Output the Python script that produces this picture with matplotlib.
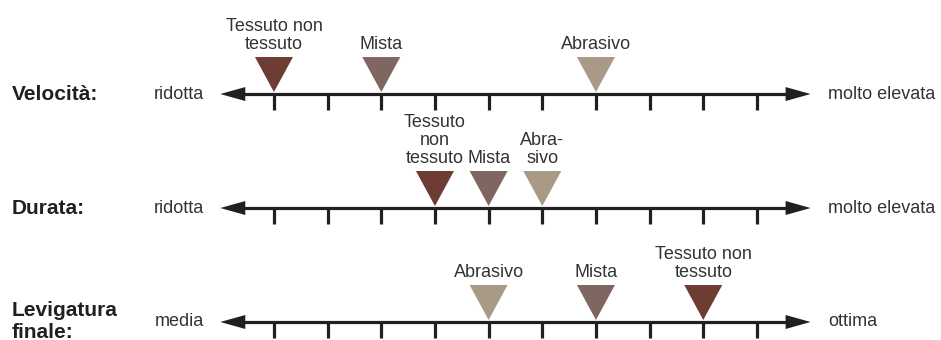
import matplotlib
matplotlib.use("Agg")
import matplotlib.pyplot as plt
from matplotlib.patches import Polygon

plt.rcParams['font.family'] = ['Liberation Sans', 'DejaVu Sans']

# data
categories = ["Velocità:", "Durata:", "Levigatura\nfinale:"]
low_labels = ["ridotta", "ridotta", "media"]
high_labels = ["molto elevata", "molto elevata", "ottima"]
materials = ["Tessuto non tessuto", "Mista", "Abrasivo"]
colors = ["#6d3c33", "#7f6661", "#a99a87"]
ticks = list(range(1, 11))

velocita = [1, 3, 7]
durata = [4, 5, 6]
levigatura = [9, 7, 5]
positions = [velocita, durata, levigatura]

velocita_lbl = ["Tessuto non\ntessuto", "Mista", "Abrasivo"]
durata_lbl = ["Tessuto\nnon\ntessuto", "Mista", "Abra-\nsivo"]
levigatura_lbl = ["Tessuto non\ntessuto", "Mista", "Abrasivo"]
marker_labels = [velocita_lbl, durata_lbl, levigatura_lbl]

ink = "#231f20"
txt = "#333333"

fig = plt.figure(figsize=(9.41, 3.4), dpi=100)
ax = fig.add_axes([0, 0, 1, 1])
ax.set_xlim(-4.105, 13.43)
ax.set_ylim(-2.158, 0.825)
ax.axis("off")

px = 1 / 53.67   # one pixel in x units
py = 1 / 114.0   # one pixel in y units

for i, cat in enumerate(categories):
    y = -i
    # axis line with arrows
    ax.plot([0.4, 10.6], [y, y], color=ink, lw=2.3, solid_capstyle="butt", zorder=3)
    ax.add_patch(Polygon([[0, y], [25 * px, y + 7 * py], [25 * px, y - 7 * py]],
                         closed=True, color=ink, lw=0, zorder=3))
    ax.add_patch(Polygon([[11, y], [11 - 25 * px, y + 7 * py], [11 - 25 * px, y - 7 * py]],
                         closed=True, color=ink, lw=0, zorder=3))
    for t in ticks:
        ax.plot([t, t], [y, y - 16 * py], color=ink, lw=2.3, solid_capstyle="butt", zorder=3)

    ax.text(-4.105 + 12 * px, y, cat, ha="left", va="center", fontsize=15,
            fontweight="bold", color=ink, linespacing=1.2)
    ax.text(-4.105 + 204 * px, y, low_labels[i], ha="right", va="center",
            fontsize=13, color=txt)
    ax.text(-4.105 + 828 * px, y, high_labels[i], ha="left", va="center",
            fontsize=13, color=txt)

    for pos, lbl, c in zip(positions[i], marker_labels[i], colors):
        top = y + 37 * py
        ax.add_patch(Polygon([[pos - 19 * px, top], [pos + 19 * px, top], [pos, y + 2 * py]],
                             closed=True, color=c, lw=0, zorder=2))
        ax.text(pos, top + 4 * py, lbl, ha="center", va="bottom", fontsize=13,
                color=txt, linespacing=1.08)

fig.savefig("out.png", dpi=100)
